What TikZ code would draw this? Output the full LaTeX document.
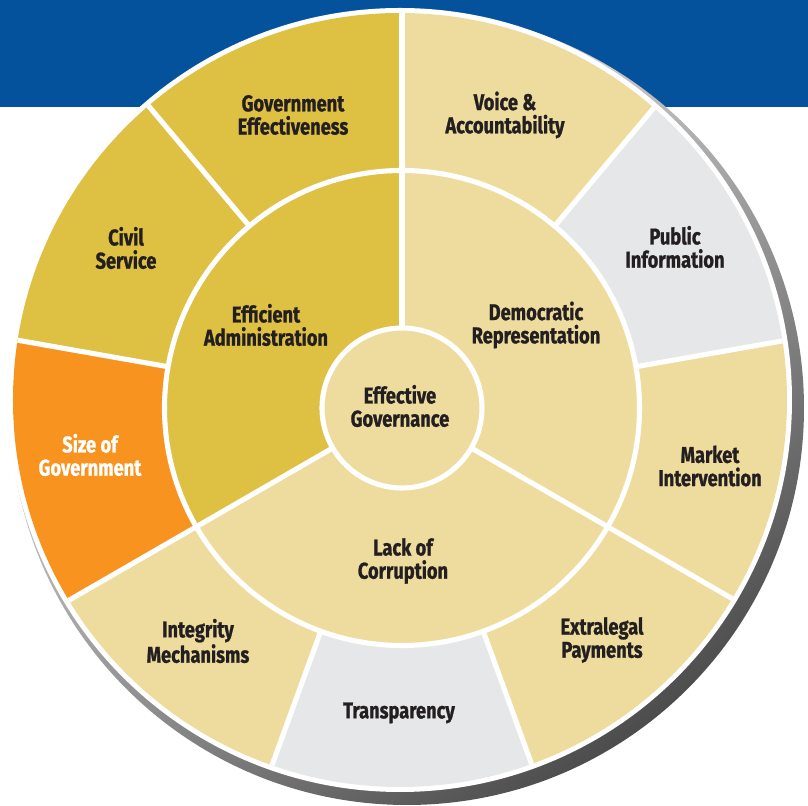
\documentclass[tikz,border=0pt]{standalone}
\usepackage{fontspec}
\setmainfont{Fira Sans}[FakeStretch=0.8, BoldFeatures={FakeBold=1}]
\usepackage{xcolor}
\usepackage{tikz}

\definecolor{bandblue}{HTML}{04529C}
\definecolor{goldseg}{HTML}{DEC043}
\definecolor{tanseg}{HTML}{EEDC9E}
\definecolor{greyseg}{HTML}{E6E7E8}
\definecolor{orangeseg}{HTML}{F7931E}
\definecolor{inktext}{HTML}{231F20}

\tikzset{
    wheeltext/.style={font=\bfseries\fontsize{13}{13.2}\selectfont, text=inktext, align=center},
    divider/.style={draw=white, line width=2.9pt},
}

\begin{document}
\begin{tikzpicture}
    \useasboundingbox (-8.04,-7.96) rectangle (8.12,8.16);
    \fill[white] (-8.04,-7.96) rectangle (8.12,8.16);
    \fill[bandblue] (-8.04,6.02) rectangle (8.12,8.16);
    % rim of the disc
    \shade[top color=gray!5, bottom color=black!70, shading angle=35] (0.1,0.0) circle (7.94);
    \fill[white] (-0.04,0.16) circle (7.84);
    \begin{scope}
        \clip (-0.04,0.16) circle (7.74);
        % outer ring
        \fill[goldseg] (0,0) -- (90:9) arc (90:170:9) -- cycle;
        \fill[orangeseg] (0,0) -- (170:9) arc (170:210:9) -- cycle;
        \fill[tanseg] (0,0) -- (210:9) arc (210:250:9) -- cycle;
        \fill[greyseg] (0,0) -- (250:9) arc (250:290:9) -- cycle;
        \fill[tanseg] (0,0) -- (290:9) arc (290:370:9) -- cycle;
        \fill[greyseg] (0,0) -- (10:9) arc (10:50:9) -- cycle;
        \fill[tanseg] (0,0) -- (50:9) arc (50:90:9) -- cycle;
        % middle ring
        \fill[tanseg] (0,0) circle (4.75);
        \fill[goldseg] (0,0) -- (90:4.75) arc (90:210:4.75) -- cycle;
        \foreach \a in {10,50,130,170,250,290}
            \draw[divider] (\a:4.75) -- (\a:9);
        \foreach \a in {90,210,330}
            \draw[divider] (\a:1.6) -- (\a:9);
        \draw[divider] (0,0) circle (4.75);
    \end{scope}
    \filldraw[divider, fill=tanseg] (0,0) circle (1.6);

    \node[wheeltext] (core) at (-0.04,0.04) {Effective\\Governance};
    \node[wheeltext] (admin) at (-2.72,1.66) {Efficient\\Administration};
    \node[wheeltext] (democ) at (2.68,1.66) {Democratic\\Representation};
    \node[wheeltext] (corrupt) at (0.02,-3.06) {Lack of\\Corruption};
    \node[wheeltext] (goveff) at (-2.18,5.86) {Government\\Effectiveness};
    \node[wheeltext] (voice) at (2.06,5.86) {Voice \&\\Accountability};
    \node[wheeltext] (pubinfo) at (5.46,3.22) {Public\\Information};
    \node[wheeltext] (market) at (6.16,-1.16) {Market\\Intervention};
    \node[wheeltext] (extralegal) at (4.0,-4.64) {Extralegal\\Payments};
    \node[wheeltext] (transp) at (-0.06,-6.10) {Transparency};
    \node[wheeltext] (integrity) at (-4.08,-4.66) {Integrity\\Mechanisms};
    \node[wheeltext, text=white] (govsize) at (-6.24,-0.94) {Size of\\Government};
    \node[wheeltext] (civil) at (-5.52,3.20) {Civil\\Service};
\end{tikzpicture}
\end{document}
